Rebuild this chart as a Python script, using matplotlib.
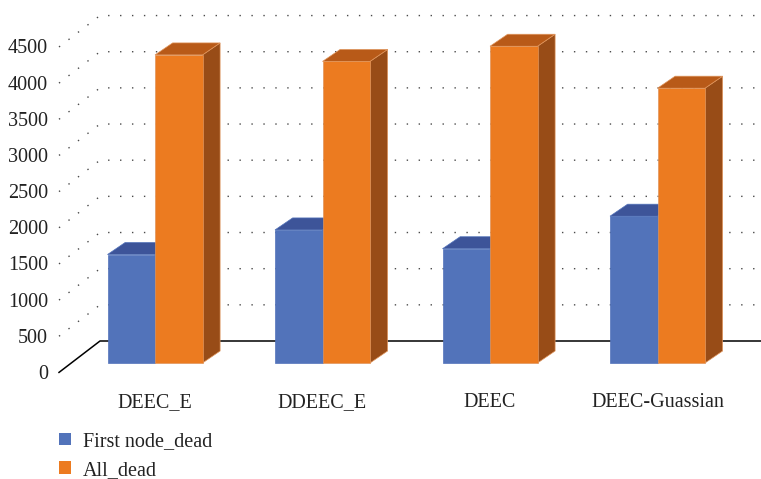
import matplotlib
matplotlib.use("Agg")
import matplotlib.pyplot as plt
from matplotlib.patches import Polygon, Patch

categories = ["DEEC_E", "DDEEC_E", "DEEC", "DEEC-Guassian"]
first_dead = [1500, 1840, 1580, 2030]
all_dead = [4260, 4170, 4380, 3800]
series_names = ["First node_dead", "All_dead"]
y_ticks = [0, 500, 1000, 1500, 2000, 2500, 3000, 3500, 4000, 4500]

plt.rcParams['font.family'] = ['Liberation Serif', 'DejaVu Serif']

# pixel -> data helpers (category spacing 167.5 px, 500 units = 36.16 px)
PX_X = 1 / 167.5
PX_Y = 500 / 36.16

W, H = 761, 479
fig = plt.figure(figsize=(W / 100, H / 100), dpi=100)
ax = fig.add_axes([0, 0, 1, 1])
ax.set_xlim(-155 * PX_X, (W - 155) * PX_X)
ax.set_ylim(-116 * PX_Y, (H - 116) * PX_Y)
ax.axis('off')

# 3d offsets
front_dx, front_dy = -96 * PX_X, -9.4 * PX_Y      # front plane relative to bar fronts
back_dx, back_dy = -55 * PX_X, 22 * PX_Y          # back wall relative to bar fronts
bar_dx, bar_dy = 17.6 * PX_X, 12 * PX_Y           # bar depth
bw = 47.5 * PX_X
x_right = ax.get_xlim()[1]

# walls: dotted gridlines on left wall and back wall
grid_kw = dict(color='#4a4a4a', lw=1.0, linestyle=(0, (1, 7.6)), zorder=1)
for v in y_ticks[1:]:
    ax.plot([front_dx, back_dx, x_right], [v + front_dy, v + back_dy, v + back_dy], **grid_kw)
# floor edge
ax.plot([front_dx, back_dx, x_right], [front_dy, back_dy, back_dy], color='black', lw=1.1, zorder=1)

# y tick labels on front plane
for v in y_ticks:
    ax.text(front_dx - 11 * PX_X, v + front_dy - 2 * PX_Y, str(v), ha='right', va='center',
            fontsize=14.5, color='#222222')

blue_front, blue_top = '#5273BA', '#3D5499'
orng_front, orng_top, orng_side = '#EC7B20', '#B85A18', '#984C17'

def box(x_l, v, front, top, side, edge, z):
    x_r = x_l + bw
    ax.add_patch(Polygon([(x_r, 0), (x_r + bar_dx, bar_dy), (x_r + bar_dx, v + bar_dy), (x_r, v)],
                         closed=True, facecolor=side, edgecolor=edge, lw=0.5, zorder=z))
    ax.add_patch(Polygon([(x_l, v), (x_r, v), (x_r + bar_dx, v + bar_dy), (x_l + bar_dx, v + bar_dy)],
                         closed=True, facecolor=top, edgecolor=edge, lw=0.5, zorder=z))
    ax.bar(x_l, v, width=bw, align='edge', color=front, edgecolor=edge, lw=0.5, zorder=z + 0.5)

for i, cat in enumerate(categories):
    box(i - bw, first_dead[i], blue_front, blue_top, blue_top, blue_front, 2)
    box(i, all_dead[i], orng_front, orng_top, orng_side, '#E0955C', 3)
    ax.text(i, -39.7 * PX_Y, cat, ha='center', va='center', fontsize=14.5, color='#222222')

handles = [Patch(facecolor=blue_front), Patch(facecolor=orng_front)]
ax.legend(handles, series_names, loc='upper left', bbox_to_anchor=(59 / W, 1 - 432 / H),
          bbox_transform=fig.transFigure, frameon=False, fontsize=14.5, borderpad=0,
          borderaxespad=0, handlelength=0.6, handleheight=0.6, handletextpad=0.6,
          labelspacing=0.48, labelcolor='#222222')

fig.savefig('out.png', dpi=100)
